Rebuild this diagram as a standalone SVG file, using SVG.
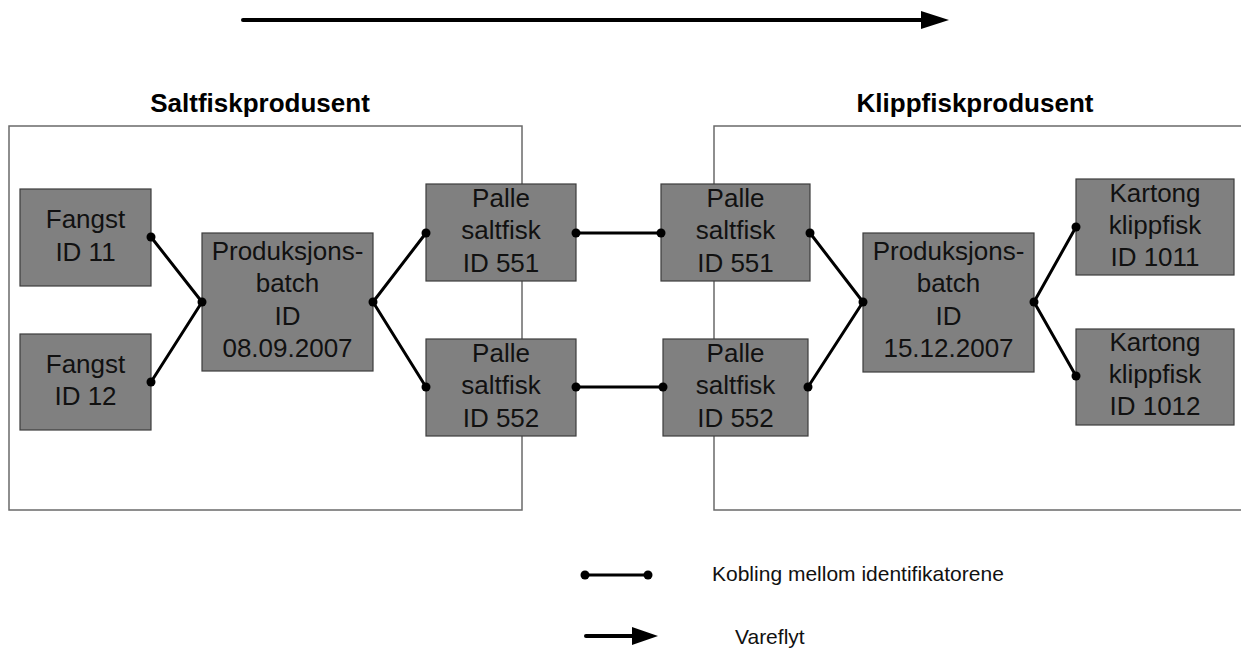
<svg xmlns="http://www.w3.org/2000/svg" width="1241" height="650" viewBox="0 0 1241 650">
<style>
.cont{fill:none;stroke:#6a6a6a;stroke-width:1.5}
.node rect{fill:#808080;stroke:#3c3c3c;stroke-width:1.2}
.node text{font-family:"Liberation Sans",Arial,sans-serif;font-size:26px;fill:#111;text-anchor:middle}
.title{font-family:"Liberation Sans",Arial,sans-serif;font-size:26px;font-weight:bold;fill:#000;text-anchor:middle}
.leg{font-family:"Liberation Sans",Arial,sans-serif;font-size:21px;fill:#111}
.link{stroke:#000;stroke-width:3;fill:none;stroke-linecap:round}
.dot{fill:#000}
.flow{stroke:#000;stroke-width:4;fill:none;stroke-linecap:round}
</style>
<rect width="1241" height="650" fill="#fff"/>

<g id="containers">
<rect class="cont" x="9" y="126" width="513" height="384"/>
<path class="cont" d="M1241,126 H714 V510 H1241"/>
<text class="title" x="260" y="112">Saltfiskprodusent</text>
<text class="title" x="975" y="112">Klippfiskprodusent</text>
</g>

<g id="flow-arrow">
<line class="flow" x1="243" y1="20" x2="926" y2="20"/>
<polygon points="921,11 949,20 921,29" fill="#000"/>
</g>

<g id="n-fangst11" class="node">
<rect x="20" y="189" width="131" height="97"/>
<text x="85.5" y="228">Fangst</text>
<text x="85.5" y="261">ID 11</text>
</g>
<g id="n-fangst12" class="node">
<rect x="20" y="334" width="131" height="96"/>
<text x="85.5" y="373">Fangst</text>
<text x="85.5" y="405">ID 12</text>
</g>
<g id="n-batch1" class="node">
<rect x="202" y="233" width="171" height="138"/>
<text x="287.5" y="260">Produksjons-</text>
<text x="287.5" y="292">batch</text>
<text x="287.5" y="325">ID</text>
<text x="287.5" y="357">08.09.2007</text>
</g>
<g id="n-palle551a" class="node">
<rect x="426" y="184" width="150" height="97"/>
<text x="501" y="207">Palle</text>
<text x="501" y="239">saltfisk</text>
<text x="501" y="272">ID 551</text>
</g>
<g id="n-palle552a" class="node">
<rect x="426" y="339" width="150" height="97"/>
<text x="501" y="362">Palle</text>
<text x="501" y="394">saltfisk</text>
<text x="501" y="427">ID 552</text>
</g>
<g id="n-palle551b" class="node">
<rect x="661" y="184" width="149" height="97"/>
<text x="735.5" y="207">Palle</text>
<text x="735.5" y="239">saltfisk</text>
<text x="735.5" y="272">ID 551</text>
</g>
<g id="n-palle552b" class="node">
<rect x="663" y="339" width="145" height="97"/>
<text x="735.5" y="362">Palle</text>
<text x="735.5" y="394">saltfisk</text>
<text x="735.5" y="427">ID 552</text>
</g>
<g id="n-batch2" class="node">
<rect x="863" y="233" width="171" height="139"/>
<text x="948.5" y="260">Produksjons-</text>
<text x="948.5" y="292">batch</text>
<text x="948.5" y="325">ID</text>
<text x="948.5" y="357">15.12.2007</text>
</g>
<g id="n-kartong1011" class="node">
<rect x="1076" y="179" width="158" height="96"/>
<text x="1155" y="202">Kartong</text>
<text x="1155" y="234">klippfisk</text>
<text x="1155" y="266">ID 1011</text>
</g>
<g id="n-kartong1012" class="node">
<rect x="1076" y="329" width="158" height="96"/>
<text x="1155" y="351">Kartong</text>
<text x="1155" y="383">klippfisk</text>
<text x="1155" y="415">ID 1012</text>
</g>

<g id="connectors">
<line class="link" x1="151" y1="237" x2="202" y2="302"/>
<line class="link" x1="151" y1="382" x2="202" y2="302"/>
<line class="link" x1="373" y1="302" x2="426" y2="233"/>
<line class="link" x1="373" y1="302" x2="426" y2="387"/>
<line class="link" x1="576" y1="233" x2="661" y2="233"/>
<line class="link" x1="576" y1="387" x2="663" y2="387"/>
<line class="link" x1="810" y1="233" x2="863" y2="302"/>
<line class="link" x1="808" y1="387" x2="863" y2="302"/>
<line class="link" x1="1034" y1="302" x2="1076" y2="227"/>
<line class="link" x1="1034" y1="302" x2="1076" y2="376"/>
<g class="dot">
<circle cx="151" cy="237" r="4.5"/>
<circle cx="151" cy="382" r="4.5"/>
<circle cx="202" cy="302" r="4.5"/>
<circle cx="373" cy="302" r="4.5"/>
<circle cx="426" cy="233" r="4.5"/>
<circle cx="426" cy="387" r="4.5"/>
<circle cx="576" cy="233" r="4.5"/>
<circle cx="576" cy="387" r="4.5"/>
<circle cx="661" cy="233" r="4.5"/>
<circle cx="663" cy="387" r="4.5"/>
<circle cx="810" cy="233" r="4.5"/>
<circle cx="808" cy="387" r="4.5"/>
<circle cx="863" cy="302" r="4.5"/>
<circle cx="1034" cy="302" r="4.5"/>
<circle cx="1076" cy="227" r="4.5"/>
<circle cx="1076" cy="376" r="4.5"/>
</g>
</g>

<g id="legend">
<line class="link" x1="585" y1="575" x2="648" y2="575"/>
<circle class="dot" cx="585" cy="575" r="4.5"/>
<circle class="dot" cx="648" cy="575" r="4.5"/>
<text class="leg" x="712" y="581">Kobling mellom identifikatorene</text>
<line class="flow" x1="586" y1="636" x2="636" y2="636"/>
<polygon points="632,627 658,636 632,645" fill="#000"/>
<text class="leg" x="735" y="644">Vareflyt</text>
</g>
</svg>
